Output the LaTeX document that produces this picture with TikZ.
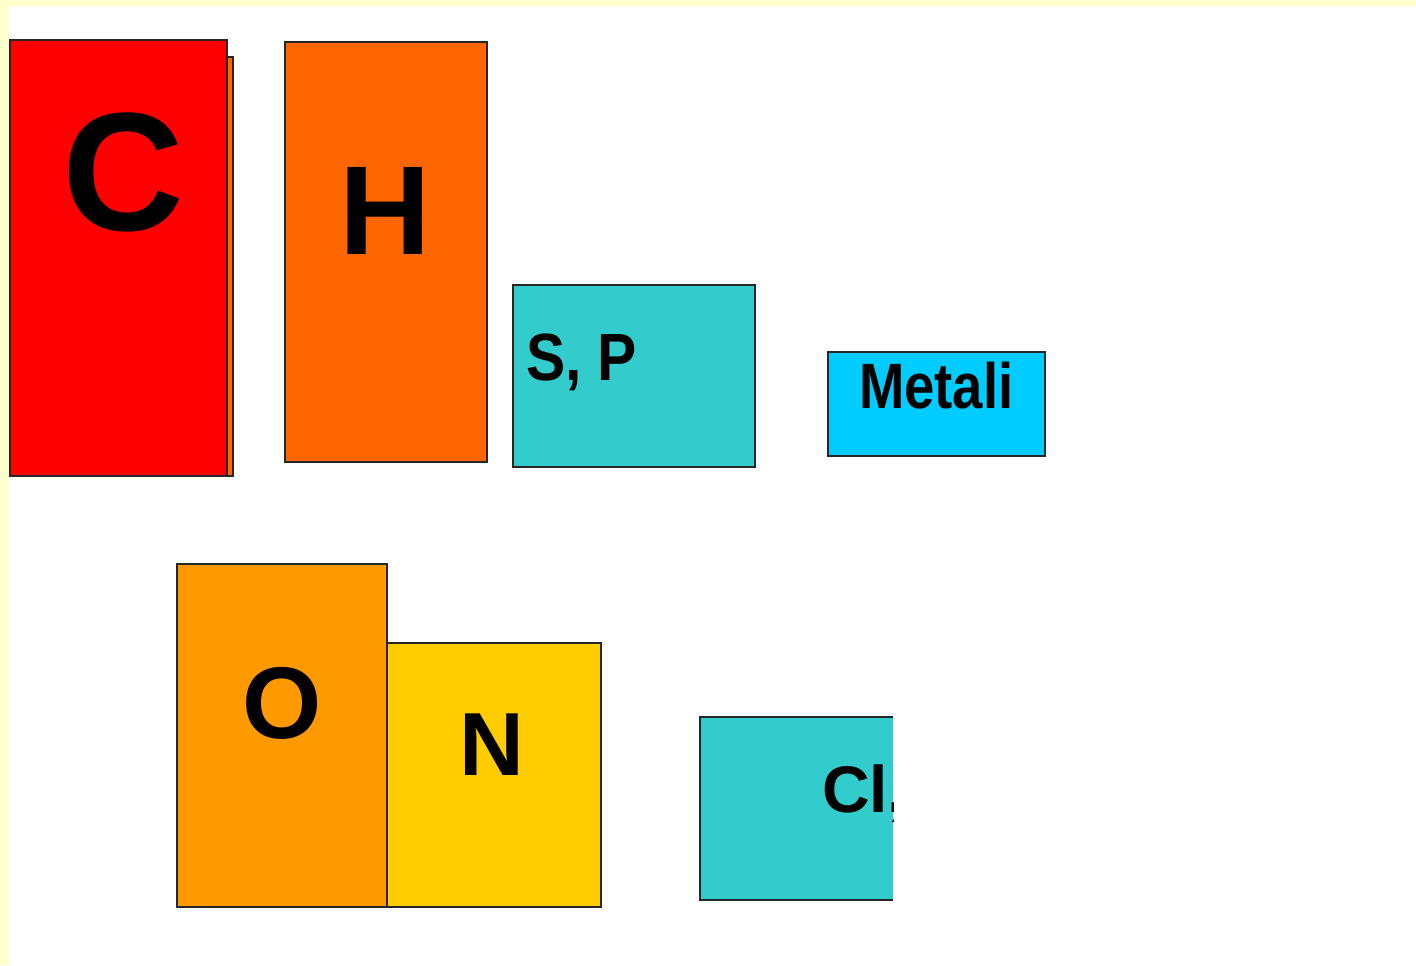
\documentclass[tikz,border=0pt]{standalone}
\usepackage{fontspec}
\setmainfont{Liberation Sans}
\usepackage{tikz}
\usetikzlibrary{positioning, calc}

\definecolor{frameyellow}{HTML}{FFFFCC}
\definecolor{cred}{HTML}{FF0000}
\definecolor{horange}{HTML}{FF6600}
\definecolor{oorange}{HTML}{FF9900}
\definecolor{nyellow}{HTML}{FFCC00}
\definecolor{spteal}{HTML}{33CCCC}
\definecolor{metblue}{HTML}{00CCFF}

\newcommand{\elemsize}[1]{\fontsize{#1}{#1}\selectfont\bfseries}

\tikzset{
    box/.style={draw=black!85, line width=0.8pt},
    elem/.style={inner sep=0pt, outer sep=0pt, text=black}
}

\begin{document}
\begin{tikzpicture}[x=0.02cm, y=-0.02cm]
    \useasboundingbox (0,0) rectangle (1416,965);
    % page with a pale yellow margin
    \fill[frameyellow] (0,0) rectangle (1416,965);
    \fill[white] (9,6) rectangle (1416,965);

    % upper row
    \filldraw[box, fill=horange] (10,57) rectangle (233,476);
    \filldraw[box, fill=cred] (10,40) rectangle (227,476);
    \filldraw[box, fill=horange] (285,42) rectangle (487,462);
    \filldraw[box, fill=spteal] (513,285) rectangle (755,467);
    \filldraw[box, fill=metblue] (828,352) rectangle (1045,456);

    \node[elem, font=\elemsize{96pt}] (c) at (123,172) {C};
    \node[elem, font=\elemsize{72pt}] (h) at (385,211) {H};
    \node[elem, font=\elemsize{38pt}, anchor=base west] (sp) at (526,380) {\scalebox{0.88}[1]{S, P}};
    \node[elem, font=\elemsize{36.5pt}, anchor=base west] (metali) at (859,408) {\scalebox{0.85}[1]{Metali}};

    % lower row
    \filldraw[box, fill=oorange] (177,564) rectangle (387,907);
    \filldraw[box, fill=nyellow] (387,643) rectangle (601,907);
    \fill[spteal] (700,717) rectangle (893,900);
    \draw[box] (893,717) -- (700,717) -- (700,900) -- (893,900);

    \node[elem, font=\elemsize{58pt}] (o) at (282,703) {O};
    \node[elem, font=\elemsize{51pt}] (n) at (492,745) {N};
    \begin{scope}
        \clip (700,717) rectangle (893,900);
        \node[elem, font=\elemsize{37.5pt}, anchor=base west] (cl) at (822,812) {Cl,};
    \end{scope}
\end{tikzpicture}
\end{document}
